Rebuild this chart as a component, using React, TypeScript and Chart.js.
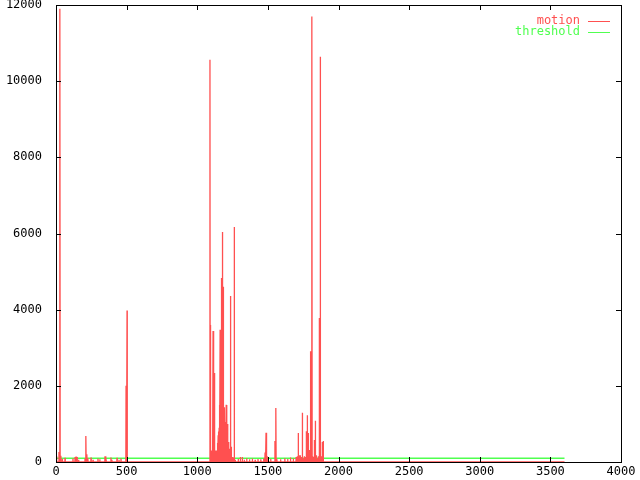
import React, { useEffect, useRef } from "react";
import { Chart, registerables } from "chart.js";

Chart.register(...registerables);

// Spike positions (frame index) and motion values
const spikeX: number[] = [
  5, 21, 28, 35, 45, 64, 120, 135, 142, 149, 160, 205, 212, 219, 226, 248, 262, 297, 310, 347, 354, 389, 396, 432, 446, 460, 496, 503,
  1090, 1094, 1100, 1104, 1108, 1112, 1116, 1119, 1123, 1126, 1130, 1133, 1137, 1140, 1144, 1148, 1151, 1155, 1158, 1162, 1166, 1170, 1173, 1177, 1181, 1184, 1188, 1191, 1195, 1198, 1202, 1205, 1209, 1212, 1216, 1219, 1223, 1226, 1230, 1234, 1237, 1241, 1248, 1255, 1262, 1269,
  1290, 1305, 1319, 1333, 1350, 1370, 1390, 1410, 1430, 1450, 1470,
  1480, 1487, 1494, 1520, 1550, 1557, 1564, 1590, 1620, 1640, 1660, 1680, 1700,
  1708, 1715, 1722, 1729, 1737, 1744, 1751, 1758, 1765, 1772, 1779, 1786, 1793, 1800, 1805, 1812, 1818, 1822, 1829, 1836, 1843, 1850, 1857, 1864, 1871, 1878, 1885, 1892,
];
const spikeY: number[] = [
  150, 260, 11900, 160, 80, 110, 90, 130, 140, 130, 60, 90, 680, 200, 100, 120, 60, 90, 70, 150, 60, 120, 60, 110, 60, 90, 2000, 3980,
  10560, 3600, 250, 300, 180, 3440, 200, 2340, 150, 300, 200, 250, 300, 150, 500, 700, 800, 900, 1500, 3470, 2800, 4830, 3200, 6040, 1800, 4600, 1200, 1440, 900, 1050, 700, 1500, 900, 1000, 600, 525, 400, 300, 350, 4360, 300, 400, 130, 120, 6170, 60,
  80, 130, 130, 60, 100, 70, 90, 60, 80, 70, 90,
  250, 770, 150, 80, 550, 1420, 80, 70, 100, 80, 120, 90, 130,
  150, 760, 180, 180, 130, 1290, 100, 150, 130, 810, 1230, 760, 315, 300, 2910, 11700, 150, 130, 580, 1080, 180, 100, 150, 3780, 10640, 150, 525, 550,
];
const threshold = 100;
const dataEnd = 3600;

const xTicks = [0, 500, 1000, 1500, 2000, 2500, 3000, 3500, 4000];
const yTicks = [0, 2000, 4000, 6000, 8000, 10000, 12000];

const RED = "#ff5050";
const GREEN = "#50ff50";
const FONT = "'DejaVu Sans Mono', monospace";

function buildMotion() {
  const pts: { x: number; y: number }[] = [{ x: 0, y: 0 }];
  for (let i = 0; i < spikeX.length; i++) {
    pts.push({ x: spikeX[i] - 1.5, y: 0 });
    pts.push({ x: spikeX[i], y: spikeY[i] });
    pts.push({ x: spikeX[i] + 1.5, y: 0 });
  }
  pts.push({ x: dataEnd, y: 0 });
  return pts;
}

const framePlugin = {
  id: "gnuframe",
  afterDraw(chart: any) {
    const ctx = chart.ctx;
    const a = chart.chartArea;
    const xs = chart.scales.x;
    const ys = chart.scales.y;
    ctx.save();
    ctx.strokeStyle = "#000";
    ctx.lineWidth = 1;
    ctx.strokeRect(Math.round(a.left) + 0.5, Math.round(a.top) + 0.5, Math.round(a.right - a.left), Math.round(a.bottom - a.top));
    ctx.beginPath();
    xTicks.forEach((v) => {
      const px = Math.round(xs.getPixelForValue(v)) + 0.5;
      ctx.moveTo(px, a.bottom);
      ctx.lineTo(px, a.bottom - 5);
      ctx.moveTo(px, a.top);
      ctx.lineTo(px, a.top + 5);
    });
    yTicks.forEach((v) => {
      const py = Math.round(ys.getPixelForValue(v)) + 0.5;
      ctx.moveTo(a.left, py);
      ctx.lineTo(a.left + 5, py);
      ctx.moveTo(a.right, py);
      ctx.lineTo(a.right - 5, py);
    });
    ctx.stroke();
    // legend
    ctx.font = "12px " + FONT;
    ctx.textAlign = "right";
    ctx.textBaseline = "middle";
    chart.data.datasets.forEach((ds: any, i: number) => {
      const y = 21 + i * 11;
      ctx.fillStyle = ds.borderColor;
      ctx.fillText(ds.label, 580, y);
      ctx.strokeStyle = ds.borderColor;
      ctx.beginPath();
      ctx.moveTo(588, y + 0.5);
      ctx.lineTo(610, y + 0.5);
      ctx.stroke();
    });
    ctx.restore();
  },
};

export default function App() {
  const ref = useRef<HTMLCanvasElement>(null);
  useEffect(() => {
    if (!ref.current) return;
    const chart = new Chart(ref.current, {
      type: "line",
      data: {
        datasets: [
          {
            label: "motion",
            data: buildMotion(),
            borderColor: RED,
            borderWidth: 1.3,
            pointRadius: 0,
            tension: 0,
          },
          {
            label: "threshold",
            data: [
              { x: 0, y: threshold },
              { x: dataEnd, y: threshold },
            ],
            borderColor: GREEN,
            borderWidth: 1.5,
            pointRadius: 0,
          },
        ],
      },
      options: {
        responsive: false,
        animation: false,
        parsing: false as any,
        normalized: true,
        layout: { padding: { top: 5, right: 19, left: 0, bottom: 0 } },
        plugins: { legend: { display: false }, tooltip: { enabled: false } },
        scales: {
          x: {
            type: "linear",
            min: 0,
            max: 4000,
            afterFit: (s: any) => {
              s.height = 18;
              s.paddingLeft = 0;
              s.paddingRight = 0;
            },
            afterBuildTicks: (s: any) => {
              s.ticks = xTicks.map((v) => ({ value: v }));
            },
            grid: { display: false },
            border: { display: false },
            ticks: {
              color: "#000",
              font: { family: FONT, size: 12 },
              padding: -5,
              maxRotation: 0,
              autoSkip: false,
              callback: (v: any) => String(v),
            },
          },
          y: {
            type: "linear",
            min: 0,
            max: 12000,
            afterFit: (s: any) => {
              s.width = 56;
              s.paddingTop = 0;
              s.paddingBottom = 0;
            },
            afterBuildTicks: (s: any) => {
              s.ticks = yTicks.map((v) => ({ value: v }));
            },
            grid: { display: false },
            border: { display: false },
            ticks: {
              color: "#000",
              font: { family: FONT, size: 12 },
              padding: 6,
              autoSkip: false,
              callback: (v: any) => String(v),
            },
          },
        },
      },
      plugins: [framePlugin],
    });
    return () => chart.destroy();
  }, []);
  return (
    <div style={{ position: "fixed", left: 0, top: 0, width: 640, height: 480, background: "#fff" }}>
      <canvas ref={ref} width={640} height={480} style={{ display: "block" }} />
    </div>
  );
}
